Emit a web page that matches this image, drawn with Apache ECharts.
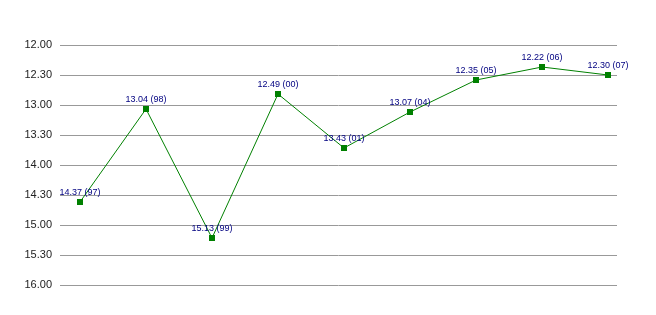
<!DOCTYPE html>
<html><head><meta charset="utf-8">
<script src="https://cdn.jsdelivr.net/npm/echarts@6/dist/echarts.min.js"></script>
<style>html,body{margin:0;padding:0;background:#fff}#c{width:656px;height:315px}</style>
</head><body><div id="c"></div>
<script>
const years = ['97','98','99','00','01','04','05','06','07'];
const times = ['14.37','13.04','15.13','12.49','13.43','13.07','12.35','12.22','12.30'];
const yTicks = ['12.00','12.30','13.00','13.30','14.00','14.30','15.00','15.30','16.00'];

function toSec(s){const p=s.split('.');return (+p[0])*60+(+p[1]);}
function fmt(v){const m=Math.floor(v/60),s=Math.round(v-m*60);return m+'.'+(s<10?'0':'')+s;}

const data = times.map((t,i)=>({value:[i,toSec(t)],label:t+' ('+years[i]+')'}));
const chart = echarts.init(document.getElementById('c'),null,{renderer:'canvas'});
chart.setOption({
  animation:false,
  grid:{left:60,right:39,top:45,bottom:30},
  xAxis:{type:'value',min:-0.303,max:8.136,show:false},
  yAxis:{type:'value',inverse:true,min:toSec(yTicks[0]),max:toSec(yTicks[yTicks.length-1]),interval:30,
    axisLine:{show:false},axisTick:{show:false},
    splitLine:{lineStyle:{color:'#999',width:1}},
    axisLabel:{margin:8,color:'#222',fontFamily:'"Liberation Sans",Arial',fontSize:11,formatter:v=>fmt(v)}},
  series:[{type:'line',data:data,symbol:'rect',symbolSize:6,
    itemStyle:{color:'#008000'},lineStyle:{color:'#008000',width:1},
    label:{show:true,position:'top',distance:2,color:'#000080',
      fontFamily:'"Liberation Sans",Arial',fontSize:9,
      formatter:p=>p.data.label}}]
});
</script></body></html>
